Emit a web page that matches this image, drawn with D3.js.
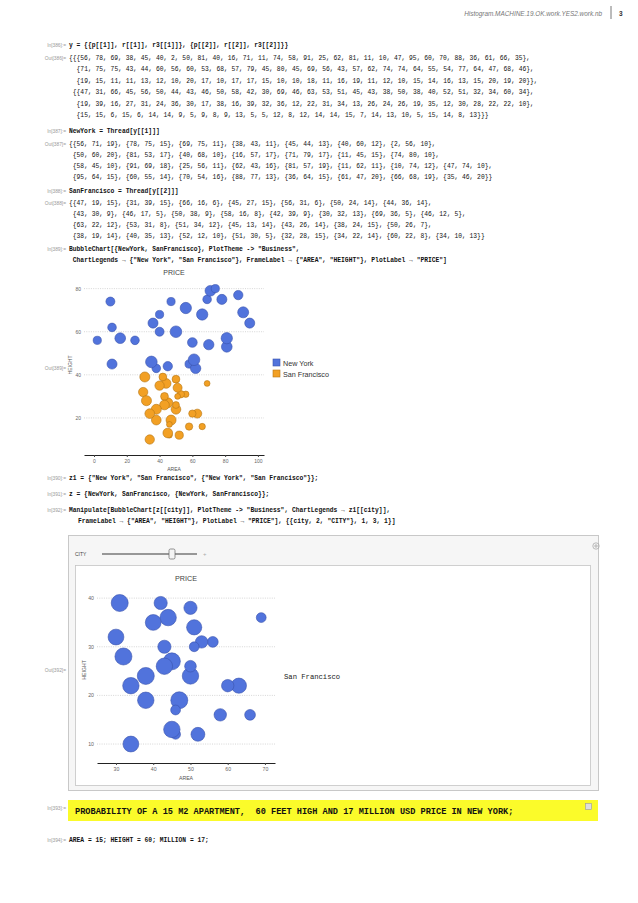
<!DOCTYPE html>
<html><head><meta charset="utf-8">
<script src="https://cdn.jsdelivr.net/npm/d3@7"></script>
<style>body{margin:0;background:#fff}svg{display:block}</style>
</head><body>
<script>
// ---- data (read from the notebook page) ----
const p1=[56,78,69,38,45,40,2,50,81,40,16,71,11,74,58,91,25,62,81,11,10,47,95,60,70,88,36,61,66,35];
const r1=[71,75,75,43,44,60,56,60,53,68,57,79,45,80,45,69,56,43,57,62,74,74,64,55,54,77,64,47,68,46];
const r31=[19,15,11,11,13,12,10,20,17,10,17,17,15,10,10,18,11,16,19,11,12,10,15,14,16,13,15,20,19,20];
const p2=[47,31,66,45,56,50,44,43,46,50,58,42,30,69,46,63,53,51,45,43,38,50,38,40,52,51,32,34,60,34];
const r2=[19,39,16,27,31,24,36,30,17,38,16,39,32,36,12,22,31,34,13,26,24,26,19,35,12,30,28,22,22,10];
const r32=[15,15,6,15,6,14,14,9,5,9,8,9,13,5,5,12,8,12,14,14,15,7,14,13,10,5,15,14,8,13];
const cityNames=["New York","San Francisco"];
const xTicks1=[0,20,40,60,80,100], yTicks1=[20,40,60,80];
const xTicks2=[30,40,50,60,70], yTicks2=[10,20,30,40];
const fills=["#5173dc","#f2a024"], strokes=["#3b54ad","#b67614"];

const NewYork=p1.map((a,i)=>[a,r1[i],r31[i]]);
const SanFrancisco=p2.map((a,i)=>[a,r2[i],r32[i]]);

const W=638,H=903;
const svg=d3.select("body").append("svg").attr("width",W).attr("height",H);
const mono="'Liberation Mono','DejaVu Sans Mono',monospace";
const sans="'Liberation Sans',Arial,sans-serif";

// header
svg.append("text").attr("x",602).attr("y",13).attr("text-anchor","end").attr("dominant-baseline","central")
  .attr("font-family",sans).attr("font-style","italic").attr("font-size",6.4).attr("fill","#777")
  .text("Histogram.MACHINE.19.OK.work.YES2.work.nb");
svg.append("line").attr("x1",611).attr("x2",611).attr("y1",6).attr("y2",19).attr("stroke","#555").attr("stroke-width",0.8);
svg.append("text").attr("x",619).attr("y",13).attr("dominant-baseline","central")
  .attr("font-family",sans).attr("font-weight","bold").attr("font-size",6.5).attr("fill","#333").text("3");

function label(t,y){
  svg.append("text").attr("x",66).attr("y",y).attr("text-anchor","end").attr("dominant-baseline","central")
    .attr("font-family",sans).attr("font-size",4.8).attr("fill","#999").text(t);
}
function code(t,x,y,bold,size){
  svg.append("text").attr("x",x).attr("y",y).attr("dominant-baseline","central")
    .attr("font-family",mono).attr("font-weight",bold?"bold":"normal").attr("font-size",size||6.3)
    .attr("fill","#111").attr("xml:space","preserve").style("white-space","pre").text(t);
}
function tripleRows(arr,breaks){
  const rows=[];
  for(let k=0;k<breaks.length-1;k++){
    const part=arr.slice(breaks[k],breaks[k+1]).map(t=>"{"+t.join(", ")+"}").join(", ");
    rows.push((k===0?"{":"")+part+(k===breaks.length-2?"}":","));
  }
  return rows;
}

// In/Out 386
label("In[386]:=",45); code("y = {{p[[1]], r[[1]], r3[[1]]}, {p[[2]], r[[2]], r3[[2]]}}",69,45,true);
label("Out[386]=",58);
const rows386=[
  ["{{{"+p1.join(", ")+"},",69],["{"+r1.join(", ")+"},",76.6],["{"+r31.join(", ")+"}},",76.6],
  ["{{"+p2.join(", ")+"},",72.8],["{"+r2.join(", ")+"},",76.6],["{"+r32.join(", ")+"}}}",76.6]];
rows386.forEach((r,i)=>code(r[0],r[1],58+i*11.5,false));

// 387
label("In[387]:=",131); code("NewYork = Thread[y[[1]]]",69,131,true);
label("Out[387]=",144);
tripleRows(NewYork,[0,7,14,22,30]).forEach((t,i)=>code(t,i?72.8:69,144+i*11.2,false));
// 388
label("In[388]:=",191); code("SanFrancisco = Thread[y[[2]]]",69,191,true);
label("Out[388]=",203);
tripleRows(SanFrancisco,[0,7,15,22,30]).forEach((t,i)=>code(t,i?72.8:69,203+i*11.2,false));
// 389
label("In[389]:=",249);
code("BubbleChart[{NewYork, SanFrancisco}, PlotTheme -> \"Business\",",69,249,true);
code("ChartLegends \u2192 {\"New York\", \"San Francisco\"}, FrameLabel \u2192 {\"AREA\", \"HEIGHT\"}, PlotLabel \u2192 \"PRICE\"]",72.8,260,true);
label("Out[389]=",368);

function bubbleChart(g,series,o){
  const x=d3.scaleLinear().domain(o.xd).range(o.xr);
  const y=d3.scaleLinear().domain(o.yd).range(o.yr);
  const r=d3.scaleSqrt().domain([0,o.zmax]).range([0,o.rmax]);
  g.selectAll(null).data(o.yt).join("line").attr("x1",o.xr[0]).attr("x2",o.xr[1])
    .attr("y1",d=>y(d)).attr("y2",d=>y(d)).attr("stroke","#bbb").attr("stroke-width",0.6).attr("stroke-dasharray","1,1.3");
  g.selectAll(null).data(o.yt).join("text").attr("x",o.xr[0]-3).attr("y",d=>y(d)).attr("text-anchor","end")
    .attr("dominant-baseline","central").attr("font-family",sans).attr("font-size",o.fs).attr("fill","#666").text(d=>d);
  const ax=g.append("g").attr("transform",`translate(0,${o.yr[0]})`)
    .call(d3.axisBottom(x).tickValues(o.xt).tickSize(2).tickPadding(2).tickSizeOuter(0));
  ax.select(".domain").attr("stroke","#222").attr("stroke-width",1);
  ax.selectAll(".tick line").attr("stroke","#444");
  ax.selectAll("text").attr("font-family",sans).attr("font-size",o.fs).attr("fill","#666");
  series.forEach(s=>{
    g.selectAll(null).data(s.data).join("circle").attr("cx",d=>x(d[0])).attr("cy",d=>y(d[1])).attr("r",d=>r(d[2]))
      .attr("fill",fills[s.c]).attr("stroke",strokes[s.c]).attr("stroke-width",0.6);
  });
  const cx=(o.xr[0]+o.xr[1])/2;
  g.append("text").attr("x",cx).attr("y",o.title).attr("text-anchor","middle").attr("dominant-baseline","central")
    .attr("font-family",sans).attr("font-size",o.fs+2).attr("fill","#444").text("PRICE");
  g.append("text").attr("x",cx).attr("y",o.xl).attr("text-anchor","middle").attr("dominant-baseline","central")
    .attr("font-family",sans).attr("font-size",o.fs).attr("fill","#555").text("AREA");
  g.append("text").attr("transform",`translate(${o.yl[0]},${o.yl[1]}) rotate(-90)`).attr("text-anchor","middle")
    .attr("dominant-baseline","central").attr("font-family",sans).attr("font-size",o.fs).attr("fill","#555").text("HEIGHT");
}

bubbleChart(svg.append("g"),[{data:NewYork,c:0},{data:SanFrancisco,c:1}],
  {xd:[-6.1,103.7],xr:[84,264],yd:[2.8,84],yr:[455,280],xt:xTicks1,yt:yTicks1,zmax:20,rmax:5.8,fs:5,title:272,xl:469,yl:[70,365]});
cityNames.forEach((n,i)=>{
  const yy=363+i*11;
  svg.append("rect").attr("x",273).attr("y",yy-4).attr("width",7).attr("height",7)
    .attr("fill",fills[i]).attr("stroke",strokes[i]).attr("stroke-width",0.6);
  svg.append("text").attr("x",283).attr("y",yy).attr("dominant-baseline","central")
    .attr("font-family",sans).attr("font-size",7.2).attr("fill","#333").text(n);
});

// 390-392
label("In[390]:=",478);
code("z1 = {\"New York\", \"San Francisco\", {\"New York\", \"San Francisco\"}};",69,478,true);
label("In[391]:=",494);
code("z = {NewYork, SanFrancisco, {NewYork, SanFrancisco}};",69,494,true);
label("In[392]:=",510);
code("Manipulate[BubbleChart[z[[city]], PlotTheme -> \"Business\", ChartLegends \u2192 z1[[city]],",69,510,true);
code("FrameLabel \u2192 {\"AREA\", \"HEIGHT\"}, PlotLabel \u2192 \"PRICE\"], {{city, 2, \"CITY\"}, 1, 3, 1}]",78,521,true);

// manipulate panel
svg.append("rect").attr("x",68.5).attr("y",535.5).attr("width",530).attr("height",255)
  .attr("fill","#f6f6f6").attr("stroke","#c8c8c8").attr("stroke-width",1);
svg.append("rect").attr("x",75.5).attr("y",565.5).attr("width",515).attr("height",220)
  .attr("fill","#fff").attr("stroke","#c4c4c4").attr("stroke-width",0.8);
svg.append("text").attr("x",75).attr("y",554).attr("dominant-baseline","central")
  .attr("font-family",sans).attr("font-size",5).attr("fill","#444").text("CITY");
svg.append("line").attr("x1",102).attr("x2",197).attr("y1",554).attr("y2",554).attr("stroke","#777").attr("stroke-width",1.3);
svg.append("rect").attr("x",169).attr("y",549).attr("width",6).attr("height",10).attr("rx",1.5)
  .attr("fill","#f4f4f4").attr("stroke","#666").attr("stroke-width",0.7);
svg.append("text").attr("x",203).attr("y",554).attr("dominant-baseline","central").attr("font-family",sans)
  .attr("font-size",6).attr("fill","#aaa").text("+");
svg.append("circle").attr("cx",596).attr("cy",546).attr("r",3.2).attr("fill","none").attr("stroke","#aaa").attr("stroke-width",0.8);
svg.append("path").attr("d","M594,546H598M596,544V548").attr("stroke","#aaa").attr("stroke-width",0.8);
label("Out[392]=",670);

bubbleChart(svg.append("g"),[{data:SanFrancisco,c:0}],
  {xd:[24.9,72.7],xr:[97,275],yd:[6.1,42.7],yr:[763,585],xt:xTicks2,yt:yTicks2,zmax:15,rmax:8.5,fs:5.2,title:578,xl:778,yl:[84,670]});
svg.append("text").attr("x",284).attr("y",677).attr("dominant-baseline","central")
  .attr("font-family",mono).attr("font-size",7.2).attr("fill","#222").text(cityNames[1]);

// yellow note
label("In[393]:=",808);
svg.append("rect").attr("x",68).attr("y",800).attr("width",530).attr("height",21).attr("fill","#fbfb2a");
svg.append("rect").attr("x",585.5).attr("y",803.5).attr("width",6).attr("height",6).attr("fill","#ddd").attr("stroke","#999").attr("stroke-width",0.6);
code("PROBABILITY OF A 15 M2 APARTMENT,  60 FEET HIGH AND 17 MILLION USD PRICE IN NEW YORK;",75,812,true,8.6);

label("In[394]:=",840);
code("AREA = 15; HEIGHT = 60; MILLION = 17;",69,840,true);
</script>
</body></html>
